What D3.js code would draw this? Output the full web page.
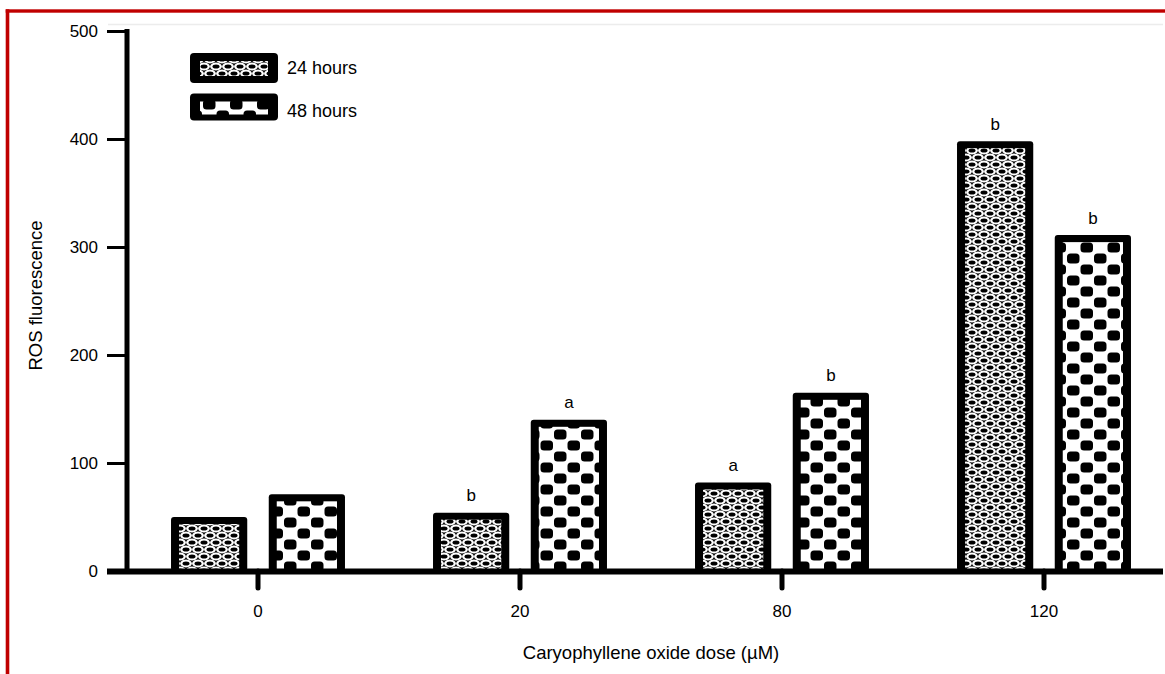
<!DOCTYPE html>
<html>
<head>
<meta charset="utf-8">
<script src="https://cdn.jsdelivr.net/npm/d3@7"></script>
<style>
  html, body { margin: 0; padding: 0; background: #fff; }
  svg { display: block; font-family: "Liberation Sans", Arial, sans-serif; }
</style>
</head>
<body>
<svg id="chart" width="1165" height="674"></svg>
<script>
const categories = ["0", "20", "80", "120"];
const seriesNames = ["24 hours", "48 hours"];
const values24 = [50, 54, 82, 398];
const values48 = [71, 140, 165, 311];
const letters24 = ["", "b", "a", "b"];
const letters48 = ["", "a", "b", "b"];
const yTicks = [0, 100, 200, 300, 400, 500];

const svg = d3.select("#chart");
const W = 1165, H = 674;

// patterns
const defs = svg.append("defs");
const p1 = defs.append("pattern").attr("id", "pat24")
  .attr("patternUnits", "userSpaceOnUse").attr("width", 12).attr("height", 14);
p1.append("rect").attr("width", 12).attr("height", 14).attr("fill", "#000");
const cells24 = [[6, 3.5], [0, 10.5], [12, 10.5], [0, -3.5], [12, -3.5], [6, 17.5]];
cells24.forEach(([cx, cy]) => {
  p1.append("ellipse").attr("cx", cx).attr("cy", cy).attr("rx", 5.9).attr("ry", 3.9).attr("fill", "#fff");
});
cells24.forEach(([cx, cy]) => {
  p1.append("ellipse").attr("cx", cx).attr("cy", cy).attr("rx", 3.5).attr("ry", 2.0).attr("fill", "#000");
});

const p2 = defs.append("pattern").attr("id", "pat48")
  .attr("patternUnits", "userSpaceOnUse").attr("width", 27).attr("height", 22);
p2.append("rect").attr("width", 27).attr("height", 22).attr("fill", "#fff");
[[0.5, 0.4], [14, 11.4]].forEach(([x, y]) => {
  p2.append("rect").attr("x", x).attr("y", y).attr("width", 12.5).attr("height", 10.2)
    .attr("rx", 3.5).attr("fill", "#000");
});

// red frame
svg.append("rect").attr("x", 5.7).attr("y", 9.3).attr("width", W).attr("height", 3.4).attr("fill", "#c00000");
svg.append("rect").attr("x", 5.7).attr("y", 9.3).attr("width", 3.6).attr("height", H).attr("fill", "#c00000");
// faint line
svg.append("line").attr("x1", 108).attr("x2", 1163).attr("y1", 24.5).attr("y2", 24.5)
  .attr("stroke", "#ececec").attr("stroke-width", 1.5);

// scales
const x = d3.scaleBand().domain(categories).range([127, 1175]).paddingInner(0.336).paddingOuter(0.168);
const x1 = d3.scaleBand().domain(seriesNames).range([0, x.bandwidth()]).paddingInner(0.22);
const y = d3.scaleLinear().domain([0, 500]).range([571, 31]);

// bars
const data = [];
categories.forEach((c, i) => {
  data.push({ cat: c, s: seriesNames[0], v: values24[i], l: letters24[i], pat: "url(#pat24)" });
  data.push({ cat: c, s: seriesNames[1], v: values48[i], l: letters48[i], pat: "url(#pat48)" });
});
const bt = 8, tt = 7;
const g = svg.append("g");
data.forEach(d => {
  const bx = x(d.cat) + x1(d.s), bw = x1.bandwidth();
  const by = y(d.v), bh = y(0) - y(d.v);
  g.append("rect").attr("x", bx).attr("y", by).attr("width", bw).attr("height", bh)
    .attr("rx", 3).attr("fill", "#000");
  g.append("rect").attr("x", bx + bt).attr("y", by + tt).attr("width", bw - 2 * bt).attr("height", bh - tt)
    .attr("fill", d.pat);
  if (d.l) {
    g.append("text").attr("x", bx + bw / 2).attr("y", by - 11.5).attr("text-anchor", "middle")
      .attr("font-size", 17).attr("fill", "#000").text(d.l);
  }
});

// y axis
const yAxis = svg.append("g").attr("transform", "translate(127,0)")
  .call(d3.axisLeft(y).tickValues(yTicks).tickSize(20).tickFormat(d3.format("d")));
yAxis.select(".domain").remove();
yAxis.selectAll(".tick line").attr("stroke", "#000").attr("stroke-width", 3);
yAxis.selectAll(".tick text").attr("x", -29).attr("font-size", 17).attr("font-family", "Liberation Sans, Arial, sans-serif").attr("fill", "#000");

// x axis
const xAxis = svg.append("g").attr("transform", "translate(0,571)")
  .call(d3.axisBottom(x).tickSize(17));
xAxis.select(".domain").remove();
xAxis.selectAll(".tick line").attr("stroke", "#000").attr("stroke-width", 5).attr("stroke-linecap", "round");
xAxis.selectAll(".tick text").attr("y", 45.7).attr("dy", 0).attr("font-size", 17)
  .attr("font-family", "Liberation Sans, Arial, sans-serif").attr("fill", "#000");

// axis lines
svg.append("line").attr("x1", 127).attr("x2", 127).attr("y1", 29).attr("y2", 573)
  .attr("stroke", "#000").attr("stroke-width", 5);
svg.append("line").attr("x1", 107).attr("x2", 1163).attr("y1", 571.5).attr("y2", 571.5)
  .attr("stroke", "#000").attr("stroke-width", 6);

// titles
svg.append("text").attr("x", 651).attr("y", 659).attr("text-anchor", "middle")
  .attr("font-size", 18.5).attr("fill", "#000").text("Caryophyllene oxide dose (\u00b5M)");
svg.append("text").attr("transform", "translate(41.5,295.5) rotate(-90)").attr("text-anchor", "middle")
  .attr("font-size", 18.5).attr("fill", "#000").text("ROS fluorescence");

// legend
const legend = [
  { name: seriesNames[0], pat: "url(#pat24)", y0: 53, h: 30, iy: 8, ih: 15, ty: 73.5 },
  { name: seriesNames[1], pat: "url(#pat48)", y0: 93.5, h: 27, iy: 8, ih: 13, ty: 117 }
];
legend.forEach(l => {
  svg.append("rect").attr("x", 190).attr("y", l.y0).attr("width", 88).attr("height", l.h)
    .attr("rx", 4).attr("fill", "#000");
  svg.append("rect").attr("x", 200).attr("y", l.y0 + l.iy).attr("width", 68).attr("height", l.ih)
    .attr("fill", l.pat);
  svg.append("text").attr("x", 287).attr("y", l.ty).attr("font-size", 18).attr("fill", "#000").text(l.name);
});
</script>
</body>
</html>
